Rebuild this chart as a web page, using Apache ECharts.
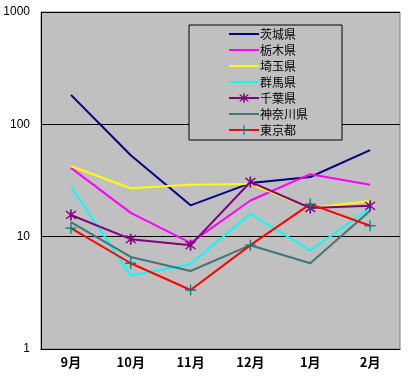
<!DOCTYPE html>
<html><head><meta charset="utf-8">
<script src="https://cdn.jsdelivr.net/npm/echarts@6/dist/echarts.min.js"></script>
<style>html,body{margin:0;padding:0;background:#fff}#c{width:411px;height:380px}</style>
</head><body><div id="c"></div>
<script>
const categories = ['9月','10月','11月','12月','1月','2月'];
const yTicks = [1, 10, 100, 1000];
const ibaraki  = [183, 53, 19, 30, 34, 59];
const tochigi  = [41, 16.3, 8.8, 21, 36, 29];
const saitama  = [42.6, 27, 29, 29.5, 18, 20.8];
const gunma    = [28, 4.5, 5.7, 16, 7.5, 18];
const chiba    = [15.6, 9.5, 8.4, 30.7, 18, 18.8];
const kanagawa = [13.5, 6.6, 4.95, 8.4, 5.8, 17];
const tokyo    = [11.9, 5.8, 3.35, 8.4, 19.5, 12.5];
const names = ['茨城県','栃木県','埼玉県','群馬県','千葉県','神奈川県','東京都'];

const plusPath = 'path://M-0.6,-5 L0.6,-5 L0.6,5 L-0.6,5 Z M-5,-0.6 L5,-0.6 L5,0.6 L-5,0.6 Z';
const starPath = 'path://M-0.6,-5 L0.6,-5 L0.6,5 L-0.6,5 Z M-4,-3.2 L-3.2,-4 L4,3.2 L3.2,4 Z M3.2,-4 L4,-3.2 L-3.2,4 L-4,3.2 Z';
const lineIcon = 'path://M-15,-1 L15,-1 L15,1 L-15,1 Z M-15,-6 L-14.99,-6 L-15,-5.99 Z M15,6 L14.99,6 L15,5.99 Z';

function mk(name, data, color, extra) {
  return Object.assign({
    name, type: 'line', data, symbol: 'none',
    lineStyle: { color, width: 2 }, itemStyle: { color },
    animation: false
  }, extra || {});
}
const font = 'Noto Sans CJK JP';
const legendData = names.map((n, i) => (i === 4 || i === 6) ? { name: n } : { name: n, icon: lineIcon });
const chart = echarts.init(document.getElementById('c'));
chart.setOption({
  animation: false,
  grid: { left: 41, top: 12, right: 11, bottom: 31, show: true, backgroundColor: '#c0c0c0', borderColor: '#808080', borderWidth: 1 },
  legend: {
    orient: 'vertical', left: 189, top: 25,
    padding: [3, 34, 4, 39], itemGap: 4, itemWidth: 30, itemHeight: 12,
    borderColor: '#000', borderWidth: 1, backgroundColor: '#c0c0c0',
    textStyle: { fontFamily: font, fontSize: 12, color: '#000', padding: [0,0,0,-4] },
    data: legendData
  },
  xAxis: {
    type: 'category', data: categories, boundaryGap: true,
    axisLine: { lineStyle: { color: '#000', width: 1 } },
    axisTick: { inside: true, length: 4, lineStyle: { color: '#000' } },
    axisLabel: { fontFamily: font, fontSize: 13, fontWeight: 'bold', color: '#000', margin: 7 }
  },
  yAxis: {
    type: 'log', logBase: 10, min: yTicks[0], max: yTicks[yTicks.length-1],
    axisLine: { show: true, lineStyle: { color: '#000', width: 1 } },
    axisTick: { show: false },
    axisLabel: { fontFamily: 'Liberation Sans', fontSize: 12, color: '#000', margin: 11, formatter: v => String(Math.round(v)) },
    splitLine: { show: true, lineStyle: { color: '#000', width: 1 } },
    minorTick: { show: false }
  },
  series: [
    mk(names[0], ibaraki, '#000080'),
    mk(names[1], tochigi, '#ff00ff'),
    mk(names[2], saitama, '#ffff00'),
    mk(names[3], gunma, '#00ffff'),
    mk(names[4], chiba, '#800080', { symbol: starPath, symbolSize: 11 }),
    mk(names[5], kanagawa, '#3f7777'),
    mk(names[6], tokyo, '#ff0000', { symbol: plusPath, symbolSize: 11, itemStyle: { color: '#008080' }, lineStyle: { color: '#ff0000', width: 2 } })
  ]
});
</script></body></html>
